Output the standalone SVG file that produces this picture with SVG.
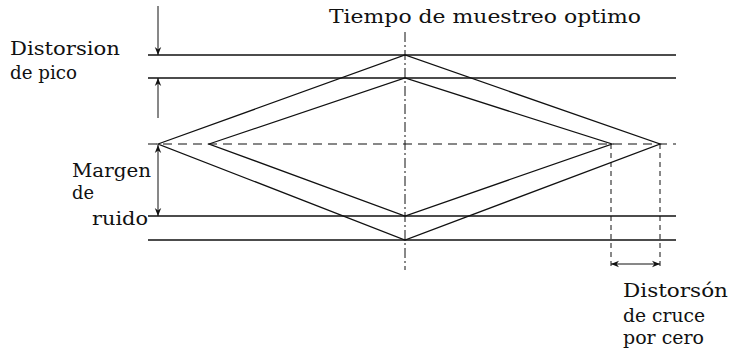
<svg xmlns="http://www.w3.org/2000/svg" width="732" height="354" viewBox="0 0 732 354">
<style>
.t{font-family:"DejaVu Serif","Liberation Serif",serif;font-size:18px;fill:#111}
.s{stroke:#111;stroke-width:1.3;fill:none}
.d{stroke:#111;stroke-width:1.2;fill:none;stroke-dasharray:9 6}
.dd{stroke:#111;stroke-width:1;fill:none;stroke-dasharray:10 3 2 3}
.dt{stroke:#111;stroke-width:1;fill:none;stroke-dasharray:5 4}
.a{stroke:#111;stroke-width:1;fill:none}
</style>
<defs>
<marker id="ah" viewBox="0 0 10 10" refX="10" refY="5" markerWidth="8" markerHeight="8" orient="auto-start-reverse" markerUnits="userSpaceOnUse">
<path d="M0,1 L10,5 L0,9 L3,5 Z" fill="#111"/>
</marker>
</defs>
<rect width="732" height="354" fill="#fff"/>
<g id="levels">
<line class="s" x1="148" y1="55" x2="676" y2="55"/>
<line class="s" x1="148" y1="78" x2="676" y2="78"/>
<line class="d" x1="148" y1="144" x2="676" y2="144"/>
<line class="s" x1="148" y1="216" x2="676" y2="216"/>
<line class="s" x1="148" y1="240" x2="676" y2="240"/>
</g>
<g id="eye">
<polygon class="s" points="158,144 405,55 660,144 405,240"/>
<polygon class="s" points="209,144 405,78 612,144 405,216"/>
</g>
<g id="connectors">
<line class="dd" x1="405" y1="32" x2="405" y2="270"/>
<line class="dt" x1="611" y1="144" x2="611" y2="268"/>
<line class="dt" x1="660" y1="144" x2="660" y2="268"/>
<line class="a" x1="158" y1="6" x2="158" y2="55" marker-end="url(#ah)"/>
<line class="a" x1="158" y1="118" x2="158" y2="78" marker-end="url(#ah)"/>
<line class="a" x1="158" y1="145" x2="158" y2="216" marker-start="url(#ah)" marker-end="url(#ah)"/>
<line class="a" x1="611" y1="264" x2="660" y2="264" marker-start="url(#ah)" marker-end="url(#ah)"/>
</g>
<g id="labels">
<text class="t" x="329" y="23" textLength="312" lengthAdjust="spacingAndGlyphs">Tiempo de muestreo optimo</text>
<text class="t" x="10" y="55" textLength="110" lengthAdjust="spacingAndGlyphs">Distorsion</text>
<text class="t" x="10" y="79" textLength="67" lengthAdjust="spacingAndGlyphs">de pico</text>
<text class="t" x="72" y="177" textLength="79" lengthAdjust="spacingAndGlyphs">Margen</text>
<text class="t" x="72" y="199" textLength="22" lengthAdjust="spacingAndGlyphs">de</text>
<text class="t" x="92" y="225" textLength="56" lengthAdjust="spacingAndGlyphs">ruido</text>
<text class="t" x="623" y="297" textLength="105" lengthAdjust="spacingAndGlyphs">Distorsón</text>
<text class="t" x="623" y="322" textLength="82" lengthAdjust="spacingAndGlyphs">de cruce</text>
<text class="t" x="623" y="344" textLength="81" lengthAdjust="spacingAndGlyphs">por cero</text>
</g>
</svg>
